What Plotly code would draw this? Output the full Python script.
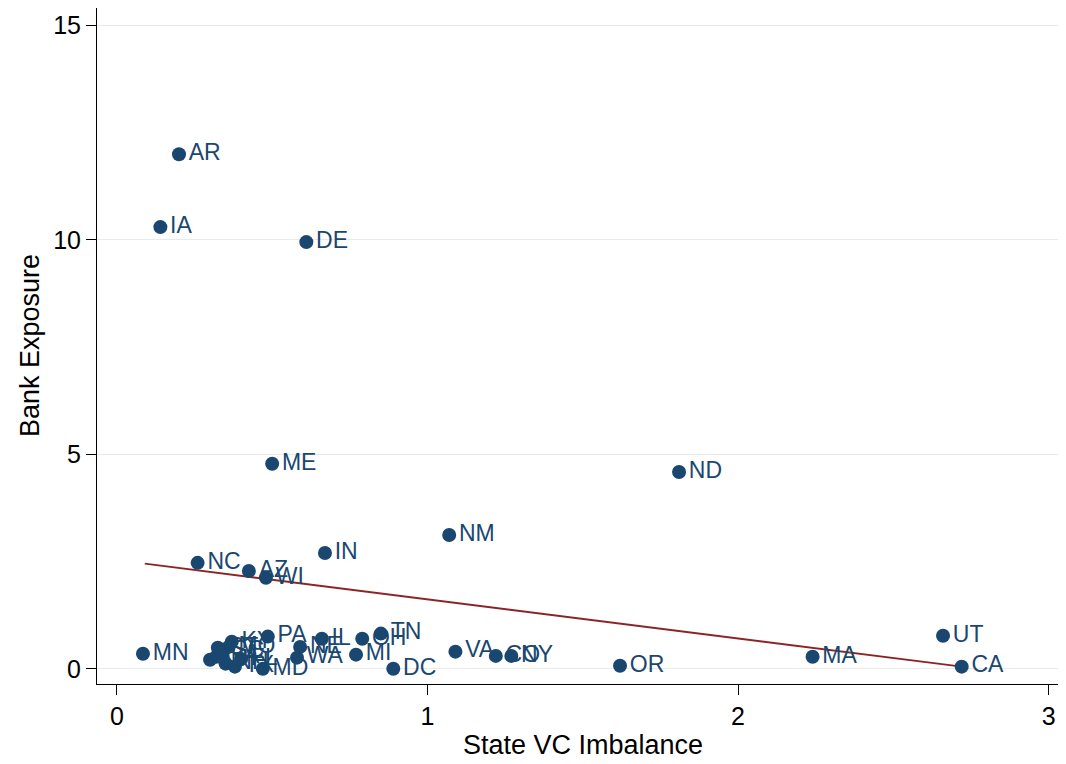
import plotly.graph_objects as go

states = ["AR", "IA", "DE", "ME", "ND", "NM", "IN", "NC", "AZ", "WI",
          "UT", "CA", "MA", "OR", "VA", "CO", "NY", "DC", "TN", "OH",
          "MI", "IL", "NE", "WA", "PA", "MD", "MN",
          "KY", "MO", "SC", "GA", "NJ", "NH", "TX", "CT", "FL"]
vc_imbalance = [0.20, 0.14, 0.61, 0.50, 1.81, 1.07, 0.67, 0.26, 0.425, 0.48,
                2.66, 2.72, 2.24, 1.62, 1.09, 1.22, 1.27, 0.89, 0.85, 0.79,
                0.77, 0.66, 0.59, 0.58, 0.486, 0.47, 0.084,
                0.37, 0.36, 0.34, 0.32, 0.30, 0.35, 0.38, 0.325, 0.40]
bank_exposure = [12.0, 10.3, 9.95, 4.78, 4.59, 3.12, 2.70, 2.47, 2.28, 2.12,
                 0.77, 0.05, 0.28, 0.07, 0.40, 0.30, 0.30, 0.0, 0.82, 0.70,
                 0.33, 0.70, 0.51, 0.26, 0.75, 0.0, 0.35,
                 0.63, 0.51, 0.40, 0.28, 0.21, 0.12, 0.05, 0.49, 0.23]

fit_x = [0.09, 2.72]
fit_y = [2.45, 0.05]

x_ticks = [0, 1, 2, 3]
y_ticks = [0, 5, 10, 15]

x_title = "State VC Imbalance"
y_title = "Bank Exposure"

navy = "#1a476f"
font_family = "Liberation Sans, Arial, sans-serif"

fig = go.Figure()
fig.add_trace(go.Scatter(
    x=fit_x, y=fit_y, mode="lines",
    line=dict(color="#8b2525", width=1.8),
    showlegend=False,
))
fig.add_trace(go.Scatter(
    x=vc_imbalance, y=bank_exposure, mode="markers+text",
    text=states, textposition="middle right",
    marker=dict(color=navy, size=14, line=dict(width=0)),
    textfont=dict(color=navy, size=23, family=font_family),
    showlegend=False, cliponaxis=False,
))

fig.update_layout(
    width=1058, height=756,
    margin=dict(l=89, r=4, t=0, b=80),
    paper_bgcolor="white", plot_bgcolor="white",
    font=dict(family=font_family, color="black", size=25),
    xaxis=dict(
        range=[-0.064, 3.043], tickvals=x_ticks, ticks="outside",
        ticklen=10, tickcolor="black", showgrid=False, zeroline=False,
        showline=True, linecolor="black", linewidth=1, automargin=False,
        tickfont=dict(size=25),
    ),
    yaxis=dict(
        range=[-0.355, 15.41], tickvals=y_ticks, ticks="outside",
        ticklen=10, tickcolor="black", showgrid=True, gridcolor="#eaeaea",
        gridwidth=1, zeroline=False, automargin=False,
        showline=True, linecolor="black", linewidth=1,
        tickfont=dict(size=25),
    ),
    annotations=[
        dict(text=x_title, xref="x", yref="paper", x=1.5, y=0,
             xanchor="center", yanchor="middle", yshift=-61,
             showarrow=False, font=dict(size=27)),
        dict(text=y_title, xref="paper", yref="paper", x=0, y=0.5,
             xanchor="center", yanchor="middle", xshift=-67, textangle=-90,
             showarrow=False, font=dict(size=27)),
    ],
)

fig.write_html("out.html")
